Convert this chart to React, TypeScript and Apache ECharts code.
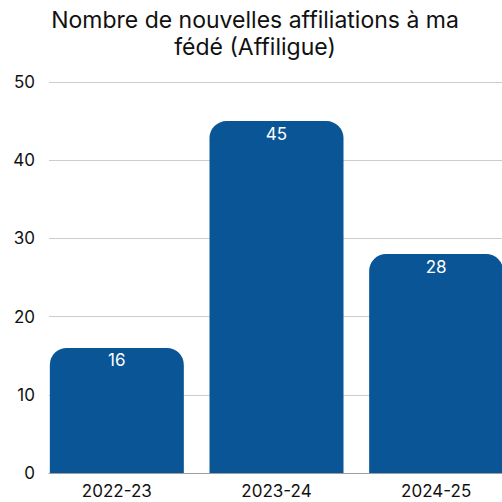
import React, { useEffect, useRef } from "react";
import * as echarts from "echarts";

const categories = ["2022-23", "2023-24", "2024-25"];
const values = [16, 45, 28];
const yTicks = [0, 10, 20, 30, 40, 50];
const titleLines = ["Nombre de nouvelles affiliations à ma", "fédé (Affiligue)"];

const FONT = "Inter, 'Noto Sans', sans-serif";
const BAR = "#0a5595";

export default function App() {
  const ref = useRef<HTMLDivElement>(null);
  useEffect(() => {
    if (!ref.current) return;
    const chart = echarts.init(ref.current, undefined, { renderer: "svg" });
    const yMax = yTicks[yTicks.length - 1];
    chart.setOption({
      animation: false,
      backgroundColor: "#ffffff",
      textStyle: { fontFamily: FONT },
      graphic: [
        {
          type: "text",
          x: 255,
          y: 6,
          style: {
            text: titleLines.join("\n"),
            textAlign: "center",
            fontFamily: FONT,
            fontSize: 23,
            lineHeight: 27,
            fill: "#111111",
          },
        },
      ],
      grid: [
        { left: 49, right: 14, top: 82, bottom: 29 },
        { left: 37, right: 0, top: 82, bottom: 29 },
      ],
      xAxis: [
        {
          gridIndex: 0,
          type: "category",
          data: categories,
          axisLine: { show: true, lineStyle: { color: "#9e9e9e", width: 1 } },
          axisTick: { show: false },
          axisLabel: { show: false },
        },
        {
          gridIndex: 1,
          type: "category",
          data: categories,
          axisLine: { show: false },
          axisTick: { show: false },
          axisLabel: { color: "#111111", fontSize: 17, fontFamily: FONT, margin: 9 },
        },
      ],
      yAxis: [
        {
          gridIndex: 0,
          type: "value",
          min: 0,
          max: yMax,
          interval: 10,
          axisLine: { show: false },
          axisTick: { show: false },
          axisLabel: { color: "#111111", fontSize: 17, fontFamily: FONT, margin: 14 },
          splitLine: { lineStyle: { color: "#cccccc", width: 1 } },
        },
        {
          gridIndex: 1,
          type: "value",
          min: 0,
          max: yMax,
          interval: 10,
          show: false,
          splitLine: { show: false },
        },
      ],
      series: [
        {
          type: "bar",
          xAxisIndex: 1,
          yAxisIndex: 1,
          data: values,
          barWidth: 134,
          itemStyle: { color: BAR, borderRadius: [17, 17, 0, 0] },
          label: {
            show: true,
            position: "insideTop",
            distance: 4,
            color: "#ffffff",
            fontSize: 17,
            fontFamily: FONT,
          },
        },
      ],
    });
    return () => chart.dispose();
  }, []);
  return (
    <div style={{ position: "fixed", left: 0, top: 0, width: 502, height: 502, overflow: "hidden" }}>
      <div ref={ref} style={{ width: 516, height: 502 }} />
    </div>
  );
}
